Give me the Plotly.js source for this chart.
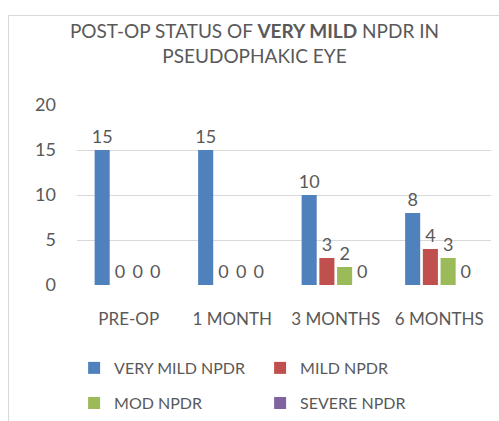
<!DOCTYPE html>
<html>
<head>
<meta charset="utf-8">
<script src="https://cdn.plot.ly/plotly-3.0.1.min.js"></script>
<style>
html,body{margin:0;padding:0;background:#fff;}
#wrap{position:relative;width:499px;height:421px;overflow:hidden;}
#chart{position:absolute;left:0;top:0;width:499px;height:421px;}
#frame{position:absolute;left:8px;top:15px;width:560px;height:470px;border:1px solid #d9d9d9;pointer-events:none;}
</style>
</head>
<body>
<div id="wrap"><div id="chart"></div><div id="frame"></div></div>
<script>
var categories = ['PRE-OP', '1 MONTH', '3 MONTHS', '6 MONTHS'];
var veryMild = [15, 15, 10, 8];
var mild = [0, 0, 3, 4];
var moderate = [0, 0, 2, 3];
var severe = [0, 0, 0, 0];
var seriesNames = ['VERY MILD NPDR', 'MILD NPDR', 'MOD NPDR', 'SEVERE NPDR'];
var yTicks = [0, 5, 10, 15, 20];

var colors = ['#4F81BD', '#C0504D', '#9BBB59', '#8064A2'];
var FONT = 'Lato, "Open Sans", sans-serif';
var GRAY = '#595959';
var values = [veryMild, mild, moderate, severe];
var legendIds = ['legend', 'legend', 'legend2', 'legend2'];

var data = values.map(function (v, i) {
  return {
    type: 'bar',
    name: seriesNames[i],
    x: categories,
    y: v,
    marker: {color: colors[i]},
    text: v.map(String),
    textposition: 'outside',
    constraintext: 'none',
    textfont: {family: FONT, size: 18, color: GRAY},
    cliponaxis: false,
    legend: legendIds[i],
    hoverinfo: 'skip'
  };
});

var legendCommon = {
  orientation: 'h',
  x: -0.007, xanchor: 'left',
  yanchor: 'middle',
  entrywidth: 141, entrywidthmode: 'pixels',
  itemwidth: 30,
  font: {family: FONT, size: 16, color: GRAY},
  bgcolor: 'rgba(0,0,0,0)',
  traceorder: 'normal'
};

var layout = {
  width: 499,
  height: 421,
  margin: {l: 77, r: 8, t: 105, b: 136, autoexpand: false},
  paper_bgcolor: 'rgba(0,0,0,0)',
  plot_bgcolor: 'rgba(0,0,0,0)',
  font: {family: FONT, color: GRAY},
  title: {
    text: 'POST-OP STATUS OF <b>VERY MILD</b> NPDR IN<br>PSEUDOPHAKIC EYE',
    font: {family: FONT, size: 19, color: GRAY},
    x: 0.51, xref: 'container', xanchor: 'center',
    y: 0.909, yref: 'container', yanchor: 'middle'
  },
  barmode: 'group',
  bargap: 0.315,
  bargroupgap: 0.15,
  xaxis: {
    type: 'category',
    showgrid: false,
    showline: false,
    zeroline: false,
    ticks: '',
    ticklabelstandoff: 22,
    tickfont: {family: FONT, size: 17, color: GRAY}
  },
  yaxis: {
    range: [0, 20],
    tickvals: yTicks,
    showgrid: true,
    gridcolor: '#d9d9d9',
    gridwidth: 1,
    zeroline: false,
    showline: false,
    ticks: '',
    ticklabelstandoff: 20,
    tickfont: {family: FONT, size: 18, color: GRAY}
  },
  showlegend: true,
  legend: Object.assign({}, legendCommon, {y: -0.461}),
  legend2: Object.assign({}, legendCommon, {y: -0.656})
};

Plotly.newPlot('chart', data, layout, {displayModeBar: false, staticPlot: true});
</script>
</body>
</html>
